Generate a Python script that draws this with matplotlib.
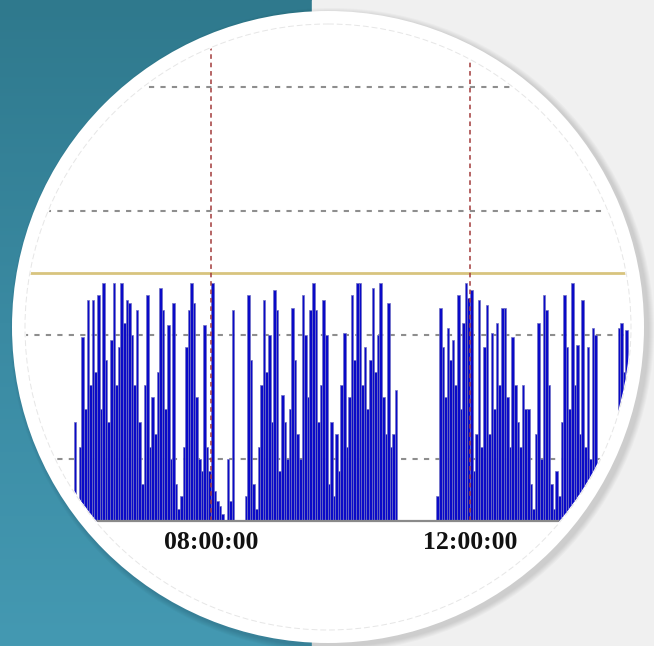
import numpy as np
import matplotlib
matplotlib.use("Agg")
import matplotlib.pyplot as plt
from matplotlib.patches import Circle, Rectangle
from matplotlib.colors import LinearSegmentedColormap

# ---------------- data ----------------
tick_hours = [8, 12]
tick_labels = ["08:00:00", "12:00:00"]
grid_levels = [25, 75, 125, 175]
threshold = 100
t_start = 5.90      # hour of first sample
t_step = 0.04       # hours between samples

load_cluster1 = [40, 8, 30, 74, 45, 89, 55, 89, 60, 91, 45, 96, 65, 40, 73, 96, 55, 70, 96, 80,
                 89, 88, 75, 55, 85, 40, 15, 55, 91, 30, 50, 35, 60, 94, 85, 45, 79, 25, 88, 15,
                 5, 10, 30, 70, 85, 96, 88, 50, 25, 20, 79, 30, 20, 96, 12, 8, 6, 3, 0, 25,
                 8, 85, 0, 0, 0, 0, 10]
load_cluster2 = [91, 65, 15, 5, 30, 55, 89, 60, 75, 40, 93, 85, 20, 51, 40, 25, 45, 86, 65, 35,
                 25, 91, 75, 50, 85, 96, 85, 40, 55, 89, 75, 15, 40, 10, 35, 20, 55, 76, 30, 50,
                 91, 65, 96, 96, 55, 70, 45, 65, 94, 60, 75, 96, 50, 35, 88, 30, 35, 53]
load_gap1 = [0] * 15
load_cluster3 = [10, 86, 70, 50, 78, 65, 73, 55, 91, 45, 80, 96, 90, 93, 20, 35, 89, 30, 70, 87,
                 35, 76, 45, 80, 55, 86, 86, 50, 30, 74, 55, 40, 30, 55, 45, 45, 15, 5, 35, 80,
                 25, 91, 85, 55, 15, 5, 20, 10, 40, 91, 70, 45, 96, 55, 71, 35, 89, 30, 70, 25,
                 78, 75, 5]
load_gap2 = [0] * 7
load_cluster4 = [78, 80, 60, 77, 50, 87, 40, 60]

load = np.array(load_cluster1 + load_cluster2 + load_gap1 + load_cluster3 + load_gap2 + load_cluster4, dtype=float)
times = t_start + t_step * np.arange(len(load))

# ---------------- figure / background ----------------
W, H = 654, 646
fig = plt.figure(figsize=(W / 100, H / 100), dpi=100)
bg = fig.add_axes([0, 0, 1, 1])
bg.set_xlim(0, W)
bg.set_ylim(H, 0)
bg.axis("off")

split_x = 312
grad = np.linspace(0, 1, 256).reshape(-1, 1)
teal = LinearSegmentedColormap.from_list("teal", ["#2f798d", "#3a8aa2", "#4499b2"])
bg.imshow(grad, cmap=teal, extent=[0, split_x, H, 0], aspect="auto", zorder=0)
bg.add_patch(Rectangle((split_x, 0), W - split_x, H, color="#f0f0f0", zorder=0))

cx, cy, r_out, r_in = 328, 327, 316, 302
for k in range(6):
    bg.add_patch(Circle((cx + 4, cy + 3), r_out + 1 + k, color="black", alpha=0.025, lw=0, zorder=1))
bg.add_patch(Circle((cx, cy), r_out, color="white", lw=0, zorder=2))

# ---------------- chart ----------------
ax = fig.add_axes([0, 0, 1, 1])
ax.set_facecolor("none")
px_per_hour = 64.75
px_per_unit = 2.48
x0_px, base_px = 211, 521
ax.set_xlim(8 - x0_px / px_per_hour, 8 + (W - x0_px) / px_per_hour)
ax.set_ylim(-(H - base_px) / px_per_unit, base_px / px_per_unit)

clip = Circle((cx, cy), r_in, transform=bg.transData)

artists = []
for g in grid_levels:
    artists.append(ax.axhline(g, color="#8e8e8e", lw=1.5, ls=(0, (2.5, 3)), zorder=1))
artists.append(ax.axhline(threshold, color="#d8c47e", lw=2.0, zorder=2))
for t in tick_hours:
    artists += ax.plot([t, t], [0, 300], color="#a23a3a", lw=1.1, ls=(0, (3, 2.5)), zorder=4)

bars = ax.bar(times, load, width=t_step, color="#0a0ac8", edgecolor="#7070c4", linewidth=0.5, zorder=3)
artists += list(bars)
artists.append(ax.axhline(0, color="#8a8a8a", lw=1.6, zorder=5))

for a in artists:
    a.set_clip_path(clip)

inner = Circle((cx, cy), r_in + 1, transform=bg.transData, fill=False, ec="#e6e6e6", lw=0.7,
               ls=(0, (6, 3)), zorder=6)
ax.add_patch(inner)

for s in ["left", "right", "top"]:
    ax.spines[s].set_visible(False)
ax.spines["bottom"].set_position(("data", 0))
ax.spines["bottom"].set_color("none")
ax.set_yticks([])
ax.set_xticks(tick_hours, labels=tick_labels)
ax.tick_params(axis="x", length=0, pad=7)
for lbl in ax.get_xticklabels():
    lbl.set_fontfamily("Liberation Serif")
    lbl.set_fontweight("bold")
    lbl.set_fontsize(18.5)
    lbl.set_color("#111111")

fig.savefig("out.png", dpi=100)
